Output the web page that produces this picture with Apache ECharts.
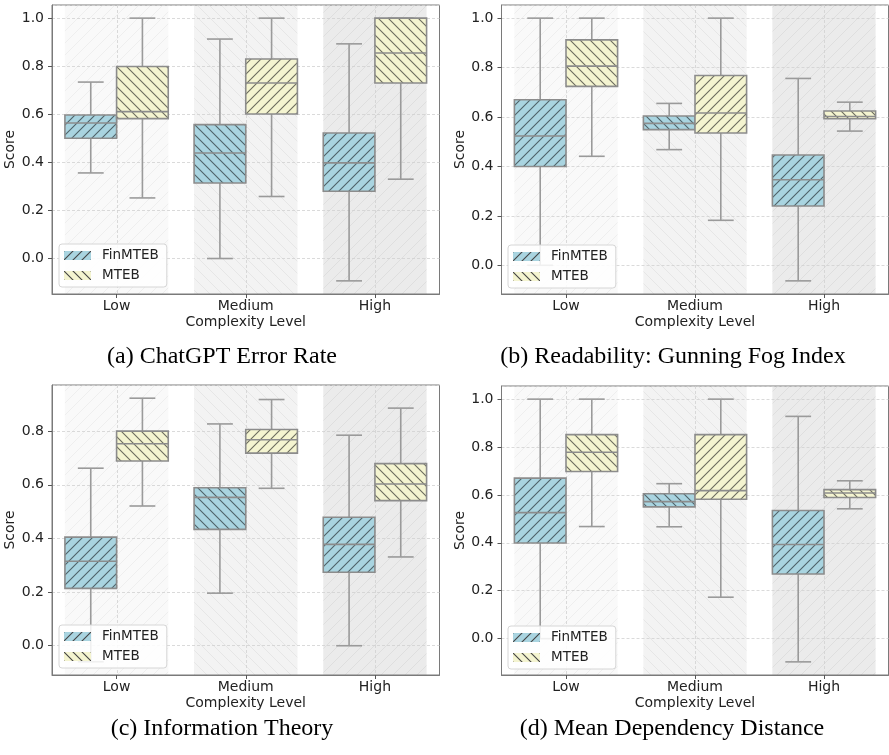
<!DOCTYPE html>
<html><head><meta charset="utf-8">
<script src="https://cdn.jsdelivr.net/npm/echarts@6/dist/echarts.min.js"></script>
<style>html,body{margin:0;padding:0;background:#fff}#c{width:889px;height:755px}</style>
</head><body><div id="c"></div>
<script>
const categories = ['Low', 'Medium', 'High'];
const seriesNames = ['FinMTEB', 'MTEB'];
const captions = ['(a) ChatGPT Error Rate', '(b) Readability: Gunning Fog Index', '(c) Information Theory', '(d) Mean Dependency Distance'];
const xAxisName = 'Complexity Level';
const yAxisName = 'Score';
// rows per category: [whisker low, Q1, median, Q3, whisker high]
const errFin  = [[0.356, 0.500, 0.564, 0.597, 0.734], [0.000, 0.314, 0.439, 0.557, 0.913], [-0.093, 0.280, 0.398, 0.522, 0.893]];
const errMteb = [[0.252, 0.582, 0.611, 0.799, 1.000], [0.258, 0.601, 0.730, 0.830, 1.000], [0.330, 0.730, 0.855, 1.000, 1.000]];
const fogFin  = [[0.000, 0.400, 0.523, 0.670, 1.000], [0.468, 0.549, 0.574, 0.604, 0.655], [-0.063, 0.240, 0.346, 0.446, 0.756]];
const fogMteb = [[0.441, 0.724, 0.806, 0.912, 1.000], [0.182, 0.535, 0.616, 0.768, 1.000], [0.543, 0.593, 0.602, 0.624, 0.660]];
const infoFin  = [[-0.060, 0.214, 0.315, 0.405, 0.662], [0.196, 0.434, 0.553, 0.589, 0.827], [0.000, 0.274, 0.378, 0.479, 0.785]];
const infoMteb = [[0.521, 0.689, 0.753, 0.800, 0.923], [0.587, 0.718, 0.768, 0.806, 0.918], [0.331, 0.541, 0.603, 0.679, 0.886]];
const mddFin  = [[0.000, 0.399, 0.526, 0.670, 1.000], [0.467, 0.550, 0.572, 0.605, 0.647], [-0.097, 0.270, 0.393, 0.535, 0.928]];
const mddMteb = [[0.468, 0.698, 0.778, 0.852, 1.000], [0.173, 0.582, 0.618, 0.852, 1.000], [0.542, 0.589, 0.608, 0.622, 0.659]];

const panels = [[errFin, errMteb], [fogFin, fogMteb], [infoFin, infoMteb], [mddFin, mddMteb]];

// ---------- styling ----------
const FONT = '"DejaVu Sans", sans-serif';
const TXT = '#222';
const layout = [
  {left: 52, top: 5, width: 387.5, height: 289, lg: {left: 59, top: 244}, cap: {x: 222, y: 357}},
  {left: 501.5, top: 5, width: 387, height: 289, lg: {left: 508, top: 245}, cap: {x: 673, y: 357}},
  {left: 52, top: 385, width: 387.5, height: 290, lg: {left: 59, top: 625}, cap: {x: 222, y: 729}},
  {left: 501.5, top: 386, width: 387, height: 289, lg: {left: 508, top: 626}, cap: {x: 672, y: 729}}
];
const boxColors = ['#a9d4e0', '#f4f4d0'];
const hatchColors = ['#4f6369', '#6c6c5e'];
const bandBg = ['#f9f9f9', '#f3f3f3', '#ebebeb'];
const bandLine = ['#eeeeee', '#e6e6e6', '#dedede'];
const bandDir = ['/', '\\', '/'];

function hatch(bg, line, dir, step, lw) {
  const c = document.createElement('canvas');
  c.width = step; c.height = step;
  const g = c.getContext('2d');
  if (bg) { g.fillStyle = bg; g.fillRect(0, 0, step, step); }
  g.strokeStyle = line; g.lineWidth = lw;
  g.beginPath();
  if (dir === '/') {
    g.moveTo(-1, step + 1); g.lineTo(step + 1, -1);
    g.moveTo(-2, 2); g.lineTo(2, -2);
    g.moveTo(step - 2, step + 2); g.lineTo(step + 2, step - 2);
  } else {
    g.moveTo(-1, -1); g.lineTo(step + 1, step + 1);
    g.moveTo(step - 2, -2); g.lineTo(step + 2, 2);
    g.moveTo(-2, step - 2); g.lineTo(2, step + 2);
  }
  g.stroke();
  return {image: c, repeat: 'repeat'};
}
const boxPat = [0, 1].map(s => ({'/': hatch(boxColors[s], hatchColors[s], '/', 10, 1.1), '\\': hatch(boxColors[s], hatchColors[s], '\\', 10, 1.1)}));
const legendPat = [hatch(boxColors[0], '#444', '/', 9, 1.1), hatch(boxColors[1], '#444', '\\', 9, 1.1)];
const bandPat = [0, 1, 2].map(i => hatch(bandBg[i], bandLine[i], bandDir[i], 12, 1));

const grid = [], xAxis = [], yAxis = [], series = [], legend = [], graphic = [];

panels.forEach((pd, p) => {
  const L = layout[p];
  const all = pd[0].concat(pd[1]);
  const lo = Math.min(...all.map(r => r[0]));
  const hi = Math.max(...all.map(r => r[4]));
  const pad = 0.05 * (hi - lo);
  grid.push({left: L.left, top: L.top, width: L.width, height: L.height, show: true, borderColor: '#7a7a7a', borderWidth: 1, backgroundColor: 'transparent', z: 2});
  xAxis.push({
    type: 'category', gridIndex: p, data: categories, boundaryGap: true, position: 'bottom',
    axisLine: {show: true, onZero: false, lineStyle: {color: '#7a7a7a', width: 1}},
    axisTick: {show: true, alignWithLabel: true, length: 4, lineStyle: {color: '#555'}},
    axisLabel: {fontSize: 14, fontFamily: FONT, color: TXT, margin: 5},
    splitLine: {show: false},
    name: xAxisName, nameLocation: 'middle', nameGap: 21,
    nameTextStyle: {fontSize: 14, fontFamily: FONT, color: TXT}, z: 2
  });
  yAxis.push({
    type: 'value', gridIndex: p, min: lo - pad, max: hi + pad, splitNumber: 5,
    axisLine: {show: true, onZero: false, lineStyle: {color: '#7a7a7a', width: 1}},
    axisTick: {show: true, length: 4, lineStyle: {color: '#555'}},
    axisLabel: {fontSize: 14, fontFamily: FONT, color: TXT, margin: 8, showMinLabel: false, showMaxLabel: false,
      formatter: v => (Math.abs(v * 5 - Math.round(v * 5)) < 1e-6 ? (Math.round(v * 5) / 5).toFixed(1) : '')},
    splitLine: {show: true, lineStyle: {color: '#d0d0d0', width: 0.8, type: [3, 2]}},
    name: yAxisName, nameLocation: 'middle', nameGap: 31, nameRotate: 90,
    nameTextStyle: {fontSize: 14, fontFamily: FONT, color: TXT}, z: 2
  });
  // background bands per category
  series.push({
    type: 'custom', xAxisIndex: p, yAxisIndex: p, z: 1, silent: true,
    data: categories.map((c, i) => [i]), encode: {x: 0},
    renderItem: (params, api) => {
      const i = api.value(0);
      const bw = api.size([1, 0])[0];
      const cx = api.coord([i, 0])[0];
      const cs = params.coordSys;
      return {type: 'rect', shape: {x: cx - 0.4 * bw, y: cs.y, width: 0.8 * bw, height: cs.height},
        style: {fill: bandPat[i]}};
    }
  });
  // vertical dashed grid lines at category centres
  series.push({
    type: 'custom', xAxisIndex: p, yAxisIndex: p, z: 2, silent: true,
    data: categories.map((c, i) => [i]), encode: {x: 0},
    renderItem: (params, api) => {
      const cx = Math.round(api.coord([api.value(0), 0])[0]) + 0.5;
      const cs = params.coordSys;
      return {type: 'line', shape: {x1: cx, y1: cs.y, x2: cx, y2: cs.y + cs.height},
        style: {stroke: '#d0d0d0', lineWidth: 0.8, lineDash: [3, 2]}};
    }
  });
  [0, 1].forEach(s => {
    series.push({
      type: 'custom', name: seriesNames[s], xAxisIndex: p, yAxisIndex: p, z: 3, silent: true,
      itemStyle: {color: boxColors[s]},
      data: pd[s].map((r, i) => [i].concat(r)),
      encode: {x: 0, y: [1, 2, 3, 4, 5]},
      renderItem: (params, api) => {
        const i = api.value(0);
        const bw = api.size([1, 0])[0];
        const base = api.coord([i, api.value(3)]);
        const cx = base[0] + (s === 0 ? -0.2 : 0.2) * bw;
        const w = 0.4 * bw;
        const yLo = api.coord([i, api.value(1)])[1];
        const yQ1 = api.coord([i, api.value(2)])[1];
        const yMed = base[1];
        const yQ3 = api.coord([i, api.value(4)])[1];
        const yHi = api.coord([i, api.value(5)])[1];
        const dir = (i + s) % 2 === 0 ? '/' : '\\';
        const ln = {stroke: '#9a9a9a', lineWidth: 1.6};
        const cap = 0.25 * w;
        return {type: 'group', children: [
          {type: 'line', shape: {x1: cx, y1: yQ3, x2: cx, y2: yHi}, style: ln},
          {type: 'line', shape: {x1: cx, y1: yQ1, x2: cx, y2: yLo}, style: ln},
          {type: 'line', shape: {x1: cx - cap, y1: yHi, x2: cx + cap, y2: yHi}, style: ln},
          {type: 'line', shape: {x1: cx - cap, y1: yLo, x2: cx + cap, y2: yLo}, style: ln},
          {type: 'rect', shape: {x: cx - w / 2, y: yQ3, width: w, height: yQ1 - yQ3},
            style: {fill: boxPat[s][dir], stroke: '#8c8c8c', lineWidth: 1.6}},
          {type: 'line', shape: {x1: cx - w / 2, y1: yMed, x2: cx + w / 2, y2: yMed}, style: {stroke: '#8c8c8c', lineWidth: 1.6}}
        ]};
      }
    });
  });
  legend.push({
    left: L.lg.left, top: L.lg.top, orient: 'vertical', icon: 'rect', itemWidth: 27, itemHeight: 9, itemGap: 5,
    selectedMode: false, backgroundColor: 'rgba(255,255,255,0.85)', borderColor: '#d6d6d6', borderWidth: 1, borderRadius: 3,
    padding: [4, 8, 4, 5],
    textStyle: {fontSize: 13.5, fontFamily: FONT, color: TXT, padding: [0, 0, 0, 6], lineHeight: 15},
    data: seriesNames.map((n, s) => ({name: n, itemStyle: {color: legendPat[s], borderWidth: 0}})),
    z: 6
  });
  graphic.push({type: 'text', x: L.cap.x, y: L.cap.y, z: 10,
    style: {text: captions[p], font: '24px "Liberation Serif", "Times New Roman", serif', fill: '#000', align: 'center', verticalAlign: 'middle'}});
});

const chart = echarts.init(document.getElementById('c'), null, {renderer: 'canvas'});
chart.setOption({animation: false, backgroundColor: '#fff', grid, xAxis, yAxis, series, legend, graphic});
</script>
</body></html>
